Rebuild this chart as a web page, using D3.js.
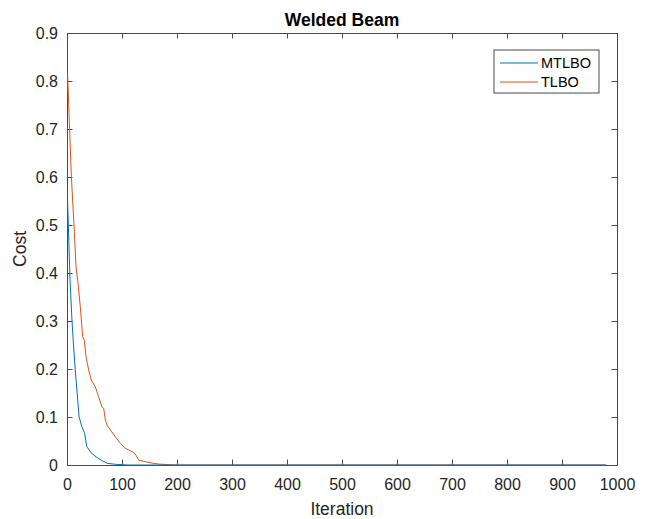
<!DOCTYPE html>
<html>
<head>
<meta charset="utf-8">
<script src="https://cdn.jsdelivr.net/npm/d3@7"></script>
<style>
  body { margin: 0; background: #fff; }
  svg { display: block; font-family: Arial, "Liberation Sans", Helvetica, sans-serif; }
  .axis text { font-size: 16px; fill: #262626; }
  .axis path, .axis line { stroke: #4a4a4a; stroke-width: 1; }
</style>
</head>
<body>
<svg width="645" height="519"></svg>
<script>
// convergence curves
const iterMTLBO = [1, 5.5, 9, 12, 15, 18, 22, 27, 32, 36, 45, 54, 64, 73, 88, 112, 980];
const costMTLBO = [0.552, 0.385, 0.302, 0.246, 0.198, 0.156, 0.100, 0.080, 0.066, 0.038, 0.024, 0.016, 0.009, 0.0035, 0.0014, 0, 0];

const iterTLBO = [1, 8, 12.7, 16.4, 19.4, 24.2, 28.5, 31.5, 34.5, 39.4, 44.2, 51.5, 57.6, 63.6, 66.7, 69.7, 72.7, 78.8,
  87.9, 97, 106, 118, 124.2, 130.3, 142.4, 154.5, 166.7, 185, 200, 980];
const costTLBO = [0.815, 0.600, 0.500, 0.413, 0.385, 0.330, 0.267, 0.260, 0.226, 0.198, 0.177, 0.163, 0.142, 0.121, 0.118, 0.094, 0.083, 0.073,
  0.059, 0.045, 0.035, 0.028, 0.023, 0.010, 0.007, 0.004, 0.002, 0.0007, 0, 0];

const xTicks = [0, 100, 200, 300, 400, 500, 600, 700, 800, 900, 1000];
const yTicks = [0, 0.1, 0.2, 0.3, 0.4, 0.5, 0.6, 0.7, 0.8, 0.9];

const series = [
  { name: "MTLBO", color: "#0072BD", x: iterMTLBO, y: costMTLBO },
  { name: "TLBO", color: "#D95319", x: iterTLBO, y: costTLBO }
];

const svg = d3.select("svg");
const plotLeft = 67, plotRight = 617, plotTop = 33, plotBottom = 465;

const x = d3.scaleLinear().domain([0, 1000]).range([plotLeft, plotRight]);
const y = d3.scaleLinear().domain([0, 0.9]).range([plotBottom, plotTop]);
const tick = 5.5;

// =============================================================================
// Axes (box with inward ticks, like MATLAB)
// =============================================================================
svg.append("g").attr("class", "axis")
  .attr("transform", `translate(0,${plotBottom})`)
  .call(d3.axisBottom(x).tickValues(xTicks).tickSizeInner(-tick).tickSizeOuter(0).tickPadding(14)
    .tickFormat((d) => String(d)))
  .selectAll("text").attr("dy", "0.71em");

svg.append("g").attr("class", "axis")
  .attr("transform", `translate(0,${plotTop})`)
  .call(d3.axisTop(x).tickValues(xTicks).tickSizeInner(-tick).tickSizeOuter(0).tickFormat(""));

svg.append("g").attr("class", "axis")
  .attr("transform", `translate(${plotLeft},0)`)
  .call(d3.axisLeft(y).tickValues(yTicks).tickSizeInner(-tick).tickSizeOuter(0).tickPadding(9)
    .tickFormat((d) => (d === 0 ? "0" : d3.format(".1f")(d))));

svg.append("g").attr("class", "axis")
  .attr("transform", `translate(${plotRight},0)`)
  .call(d3.axisRight(y).tickValues(yTicks).tickSizeInner(-tick).tickSizeOuter(0).tickFormat(""));

// =============================================================================
// Lines
// =============================================================================
const line = d3.line()
  .x((d) => x(d[0]))
  .y((d) => y(d[1]));

svg.append("g")
  .selectAll("path")
  .data(series.slice().reverse())
  .enter()
  .append("path")
  .attr("fill", "none")
  .attr("stroke", (d) => d.color)
  .attr("stroke-width", 1)
  .attr("d", (d) => line(d.x.map((v, i) => [v, d.y[i]])));

// =============================================================================
// Labels
// =============================================================================
svg.append("text")
  .attr("x", (plotLeft + plotRight) / 2)
  .attr("y", 26)
  .attr("text-anchor", "middle")
  .style("font-size", "17.5px")
  .style("font-weight", "bold")
  .attr("fill", "#000")
  .text("Welded Beam");

svg.append("text")
  .attr("x", (plotLeft + plotRight) / 2)
  .attr("y", 515)
  .attr("text-anchor", "middle")
  .style("font-size", "17.5px")
  .attr("fill", "#262626")
  .text("Iteration");

svg.append("text")
  .attr("transform", `translate(26,${(plotTop + plotBottom) / 2}) rotate(-90)`)
  .attr("text-anchor", "middle")
  .style("font-size", "17.5px")
  .attr("fill", "#262626")
  .text("Cost");

// =============================================================================
// Legend
// =============================================================================
const legend = svg.append("g").attr("transform", "translate(494,50)");

legend.append("rect")
  .attr("width", 105)
  .attr("height", 43)
  .attr("fill", "#fff")
  .attr("stroke", "#4a4a4a")
  .attr("stroke-width", 1);

const item = legend.selectAll("g.item")
  .data(series)
  .enter()
  .append("g")
  .attr("class", "item")
  .attr("transform", (d, i) => `translate(0,${13 + i * 19})`);

item.append("line")
  .attr("x1", 6).attr("x2", 44)
  .attr("stroke", (d) => d.color)
  .attr("stroke-width", 1);

item.append("text")
  .attr("x", 47)
  .attr("dy", "0.36em")
  .style("font-size", "14.5px")
  .attr("fill", "#000")
  .text((d) => d.name);
</script>
</body>
</html>
